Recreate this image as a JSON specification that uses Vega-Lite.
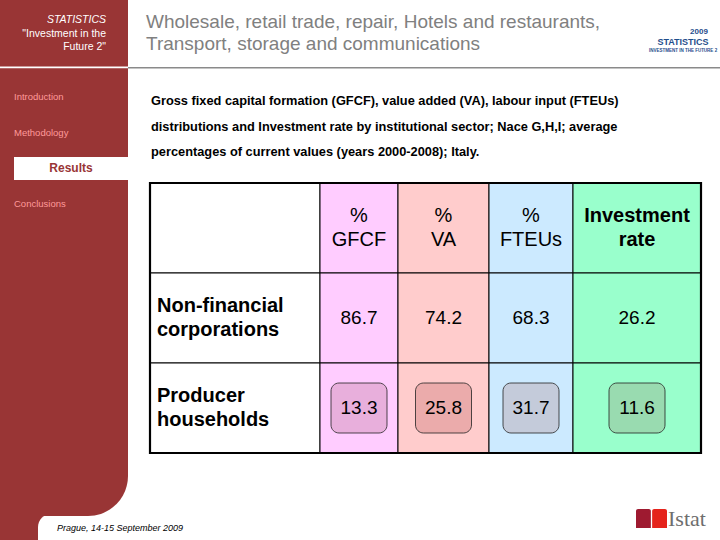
{
  "$schema": "https://vega.github.io/schema/vega-lite/v6.json",
  "width": 720,
  "height": 540,
  "autosize": {"type": "fit", "contains": "padding"},
  "padding": 0,
  "background": "white",
  "config": {"view": {"stroke": null}, "font": "Liberation Sans"},
  "datasets": {
    "cells": [
      {"row": "header", "col": "label", "label": ""},
      {"row": "header", "col": "% GFCF", "label": "%\nGFCF"},
      {"row": "header", "col": "% VA", "label": "%\nVA"},
      {"row": "header", "col": "% FTEUs", "label": "%\nFTEUs"},
      {"row": "header", "col": "Investment rate", "label": "Investment\nrate"},
      {"row": "Non-financial corporations", "col": "label", "label": "Non-financial\ncorporations"},
      {"row": "Producer households", "col": "label", "label": "Producer\nhouseholds"},
      {"row": "Non-financial corporations", "col": "% GFCF", "value": 86.7},
      {"row": "Non-financial corporations", "col": "% VA", "value": 74.2},
      {"row": "Non-financial corporations", "col": "% FTEUs", "value": 68.3},
      {"row": "Non-financial corporations", "col": "Investment rate", "value": 26.2},
      {"row": "Producer households", "col": "% GFCF", "value": 13.3},
      {"row": "Producer households", "col": "% VA", "value": 25.8},
      {"row": "Producer households", "col": "% FTEUs", "value": 31.7},
      {"row": "Producer households", "col": "Investment rate", "value": 11.6}
    ]
  },
  "resolve": {"scale": {"x": "independent", "y": "independent", "color": "independent"}},
  "layer": [
    {
      "data": {"values": [{"part": "sidebar-foot"}]},
      "mark": {"type": "rect", "fill": "#993535"},
      "encoding": {
        "x": {"field": "part", "type": "nominal", "scale": {"domain": ["sidebar-foot"], "range": [0, 62], "paddingInner": 0, "paddingOuter": 0}, "axis": null},
        "y": {"field": "part", "type": "nominal", "scale": {"domain": ["sidebar-foot"], "range": [470, 540], "paddingInner": 0, "paddingOuter": 0}, "axis": null}
      }
    },
    {
      "data": {"values": [{"part": "fillet"}]},
      "mark": {"type": "rect", "fill": "white", "cornerRadiusTopLeft": 20},
      "encoding": {
        "x": {"field": "part", "type": "nominal", "scale": {"domain": ["fillet"], "range": [38, 260], "paddingInner": 0, "paddingOuter": 0}, "axis": null},
        "y": {"field": "part", "type": "nominal", "scale": {"domain": ["fillet"], "range": [514, 540], "paddingInner": 0, "paddingOuter": 0}, "axis": null}
      }
    },
    {
      "data": {"values": [{"part": "sidebar"}]},
      "mark": {"type": "rect", "fill": "#993535", "cornerRadiusBottomRight": 40},
      "encoding": {
        "x": {"field": "part", "type": "nominal", "scale": {"domain": ["sidebar"], "range": [0, 128], "paddingInner": 0, "paddingOuter": 0}, "axis": null},
        "y": {"field": "part", "type": "nominal", "scale": {"domain": ["sidebar"], "range": [0, 516], "paddingInner": 0, "paddingOuter": 0}, "axis": null}
      }
    },
    {
      "data": {"values": [{"part": "sidebar-divider"}]},
      "mark": {"type": "rect", "fill": "white"},
      "encoding": {
        "x": {"field": "part", "type": "nominal", "scale": {"domain": ["sidebar-divider"], "range": [0, 128], "paddingInner": 0, "paddingOuter": 0}, "axis": null},
        "y": {"field": "part", "type": "nominal", "scale": {"domain": ["sidebar-divider"], "range": [66.5, 68.2], "paddingInner": 0, "paddingOuter": 0}, "axis": null}
      }
    },
    {
      "data": {"values": [{"part": "header-divider"}]},
      "mark": {"type": "rect", "fill": "#8a8a8a"},
      "encoding": {
        "x": {"field": "part", "type": "nominal", "scale": {"domain": ["header-divider"], "range": [128, 720], "paddingInner": 0, "paddingOuter": 0}, "axis": null},
        "y": {"field": "part", "type": "nominal", "scale": {"domain": ["header-divider"], "range": [67, 68.6], "paddingInner": 0, "paddingOuter": 0}, "axis": null}
      }
    },
    {
      "data": {"values": [
        {"block": "sidebar-head", "line": "STATISTICS"},
        {"block": "sidebar-head", "line": "\"Investment in the"},
        {"block": "sidebar-head", "line": "Future 2\""}
      ]},
      "encoding": {
        "x": {"field": "block", "type": "nominal", "scale": {"type": "point", "domain": ["sidebar-head"], "range": [106, 106], "padding": 0}, "axis": null},
        "y": {"field": "line", "type": "nominal", "scale": {"type": "point", "domain": ["STATISTICS", "\"Investment in the", "Future 2\""], "range": [20, 47], "padding": 0}, "axis": null},
        "text": {"field": "line"}
      },
      "layer": [
        {"transform": [{"filter": "datum.line === 'STATISTICS'"}], "mark": {"type": "text", "align": "right", "fontSize": 10.5, "fontStyle": "italic", "color": "white"}},
        {"transform": [{"filter": "datum.line !== 'STATISTICS'"}], "mark": {"type": "text", "align": "right", "fontSize": 10.5, "color": "white"}}
      ]
    },
    {
      "data": {"values": [
        {"block": "nav", "item": "Introduction"},
        {"block": "nav", "item": "Methodology"},
        {"block": "nav", "item": "Results"},
        {"block": "nav", "item": "Conclusions"}
      ]},
      "encoding": {
        "x": {"field": "block", "type": "nominal", "scale": {"domain": ["nav"], "range": [14, 128], "paddingInner": 0, "paddingOuter": 0}, "axis": null},
        "y": {"field": "item", "type": "nominal", "scale": {"domain": ["Introduction", "Methodology", "Results", "Conclusions"], "range": [79, 222], "paddingInner": 0, "paddingOuter": 0}, "axis": null}
      },
      "layer": [
        {"transform": [{"filter": "datum.item === 'Results'"}], "mark": {"type": "rect", "fill": "white", "height": 23}},
        {"transform": [{"filter": "datum.item !== 'Results'"}], "mark": {"type": "text", "align": "left", "fontSize": 9.5, "color": "#ff9a9a"},
         "encoding": {"x": {"field": "block", "type": "nominal", "bandPosition": 0, "scale": {"domain": ["nav"], "range": [14, 128], "paddingInner": 0, "paddingOuter": 0}, "axis": null}, "text": {"field": "item"}}},
        {"transform": [{"filter": "datum.item === 'Results'"}], "mark": {"type": "text", "align": "center", "fontSize": 12, "fontWeight": "bold", "color": "#993535"},
         "encoding": {"text": {"field": "item"}}}
      ]
    },
    {
      "data": {"values": [{"block": "title", "text": "Wholesale, retail trade, repair, Hotels and restaurants,\nTransport, storage and communications"}]},
      "mark": {"type": "text", "align": "left", "fontSize": 19, "lineBreak": "\n", "lineHeight": 22, "color": "#808080"},
      "encoding": {
        "x": {"field": "block", "type": "nominal", "scale": {"type": "point", "domain": ["title"], "range": [146, 146], "padding": 0}, "axis": null},
        "y": {"field": "block", "type": "nominal", "scale": {"type": "point", "domain": ["title"], "range": [22, 22], "padding": 0}, "axis": null},
        "text": {"field": "text"}
      }
    },
    {
      "data": {"values": [
        {"block": "logo", "line": "2009"},
        {"block": "logo", "line": "STATISTICS"},
        {"block": "logo", "line": "INVESTMENT IN THE FUTURE 2"}
      ]},
      "encoding": {
        "y": {"field": "line", "type": "nominal", "scale": {"type": "point", "domain": ["2009", "STATISTICS", "INVESTMENT IN THE FUTURE 2"], "range": [32, 51], "padding": 0}, "axis": null},
        "text": {"field": "line"}
      },
      "layer": [
        {"transform": [{"filter": "datum.line === '2009'"}], "mark": {"type": "text", "fontSize": 8, "fontWeight": "bold", "color": "#1f4e8c"},
         "encoding": {"x": {"field": "block", "type": "nominal", "scale": {"type": "point", "domain": ["logo"], "range": [699, 699], "padding": 0}, "axis": null}}},
        {"transform": [{"filter": "datum.line !== '2009'"}], "mark": {"type": "text", "fontSize": 9, "fontWeight": "bold", "color": "#1f4e8c"},
         "encoding": {"x": {"field": "block", "type": "nominal", "scale": {"type": "point", "domain": ["logo"], "range": [683, 683], "padding": 0}, "axis": null},
                      "size": {"field": "line", "type": "nominal", "scale": {"domain": ["STATISTICS", "INVESTMENT IN THE FUTURE 2"], "range": [9, 4.5]}, "legend": null}}}
      ],
      "resolve": {"scale": {"x": "independent"}}
    },
    {
      "data": {"values": [
        {"block": "para", "line": "Gross fixed capital formation (GFCF), value added (VA), labour input (FTEUs)"},
        {"block": "para", "line": "distributions and Investment rate by institutional sector; Nace G,H,I; average"},
        {"block": "para", "line": "percentages of current values (years 2000-2008); Italy."}
      ]},
      "mark": {"type": "text", "align": "left", "fontSize": 12.8, "fontWeight": "bold", "color": "black"},
      "encoding": {
        "x": {"field": "block", "type": "nominal", "scale": {"type": "point", "domain": ["para"], "range": [151, 151], "padding": 0}, "axis": null},
        "y": {"field": "line", "type": "nominal", "scale": {"type": "point", "domain": [
          "Gross fixed capital formation (GFCF), value added (VA), labour input (FTEUs)",
          "distributions and Investment rate by institutional sector; Nace G,H,I; average",
          "percentages of current values (years 2000-2008); Italy."], "range": [101, 152], "padding": 0}, "axis": null},
        "text": {"field": "line"}
      }
    },
    {
      "data": {"name": "cells"},
      "transform": [{"filter": "datum.col === 'label'"}],
      "encoding": {
        "x": {"field": "col", "type": "nominal", "scale": {"domain": ["label"], "range": [150, 320], "paddingInner": 0, "paddingOuter": 0}, "axis": null},
        "y": {"field": "row", "type": "nominal", "scale": {"domain": ["header", "Non-financial corporations", "Producer households"], "range": [183, 453], "paddingInner": 0, "paddingOuter": 0}, "axis": null}
      },
      "layer": [
        {"mark": {"type": "rect", "fill": "white", "stroke": "black", "strokeWidth": 1}},
        {"transform": [{"filter": "datum.row !== 'header'"}],
         "mark": {"type": "text", "align": "left", "dx": 7, "dy": -12, "fontSize": 20, "fontWeight": "bold", "lineBreak": "\n", "lineHeight": 24, "color": "black"},
         "encoding": {
           "x": {"field": "col", "type": "nominal", "bandPosition": 0, "scale": {"domain": ["label"], "range": [150, 320], "paddingInner": 0, "paddingOuter": 0}, "axis": null},
           "text": {"field": "label"}
         }}
      ]
    },
    {
      "data": {"name": "cells"},
      "transform": [{"filter": "datum.col === '% GFCF'"}],
      "encoding": {
        "x": {"field": "col", "type": "nominal", "scale": {"domain": ["% GFCF"], "range": [320, 398], "paddingInner": 0, "paddingOuter": 0}, "axis": null},
        "y": {"field": "row", "type": "nominal", "scale": {"domain": ["header", "Non-financial corporations", "Producer households"], "range": [183, 453], "paddingInner": 0, "paddingOuter": 0}, "axis": null}
      },
      "layer": [
        {"mark": {"type": "rect", "fill": "#ffccff", "stroke": "black", "strokeWidth": 1}},
        {"transform": [{"filter": "datum.row === 'Producer households'"}], "mark": {"type": "rect", "fill": "#e8afdc", "stroke": "#222222", "strokeWidth": 0.8, "cornerRadius": 8, "width": 56, "height": 50}},
        {"transform": [{"filter": "datum.row === 'header'"}], "mark": {"type": "text", "dy": -12, "fontSize": 20, "lineBreak": "\n", "lineHeight": 24, "color": "black"}, "encoding": {"text": {"field": "label"}}},
        {"transform": [{"filter": "isValid(datum.value)"}], "mark": {"type": "text", "fontSize": 19, "color": "black"}, "encoding": {"text": {"field": "value", "type": "quantitative", "format": ".1f"}}}
      ]
    },
    {
      "data": {"name": "cells"},
      "transform": [{"filter": "datum.col === '% VA'"}],
      "encoding": {
        "x": {"field": "col", "type": "nominal", "scale": {"domain": ["% VA"], "range": [398, 489], "paddingInner": 0, "paddingOuter": 0}, "axis": null},
        "y": {"field": "row", "type": "nominal", "scale": {"domain": ["header", "Non-financial corporations", "Producer households"], "range": [183, 453], "paddingInner": 0, "paddingOuter": 0}, "axis": null}
      },
      "layer": [
        {"mark": {"type": "rect", "fill": "#ffcccc", "stroke": "black", "strokeWidth": 1}},
        {"transform": [{"filter": "datum.row === 'Producer households'"}], "mark": {"type": "rect", "fill": "#ebabab", "stroke": "#222222", "strokeWidth": 0.8, "cornerRadius": 8, "width": 56, "height": 50}},
        {"transform": [{"filter": "datum.row === 'header'"}], "mark": {"type": "text", "dy": -12, "fontSize": 20, "lineBreak": "\n", "lineHeight": 24, "color": "black"}, "encoding": {"text": {"field": "label"}}},
        {"transform": [{"filter": "isValid(datum.value)"}], "mark": {"type": "text", "fontSize": 19, "color": "black"}, "encoding": {"text": {"field": "value", "type": "quantitative", "format": ".1f"}}}
      ]
    },
    {
      "data": {"name": "cells"},
      "transform": [{"filter": "datum.col === '% FTEUs'"}],
      "encoding": {
        "x": {"field": "col", "type": "nominal", "scale": {"domain": ["% FTEUs"], "range": [489, 573], "paddingInner": 0, "paddingOuter": 0}, "axis": null},
        "y": {"field": "row", "type": "nominal", "scale": {"domain": ["header", "Non-financial corporations", "Producer households"], "range": [183, 453], "paddingInner": 0, "paddingOuter": 0}, "axis": null}
      },
      "layer": [
        {"mark": {"type": "rect", "fill": "#cceaff", "stroke": "black", "strokeWidth": 1}},
        {"transform": [{"filter": "datum.row === 'Producer households'"}], "mark": {"type": "rect", "fill": "#c4cbda", "stroke": "#222222", "strokeWidth": 0.8, "cornerRadius": 8, "width": 56, "height": 50}},
        {"transform": [{"filter": "datum.row === 'header'"}], "mark": {"type": "text", "dy": -12, "fontSize": 20, "lineBreak": "\n", "lineHeight": 24, "color": "black"}, "encoding": {"text": {"field": "label"}}},
        {"transform": [{"filter": "isValid(datum.value)"}], "mark": {"type": "text", "fontSize": 19, "color": "black"}, "encoding": {"text": {"field": "value", "type": "quantitative", "format": ".1f"}}}
      ]
    },
    {
      "data": {"name": "cells"},
      "transform": [{"filter": "datum.col === 'Investment rate'"}],
      "encoding": {
        "x": {"field": "col", "type": "nominal", "scale": {"domain": ["Investment rate"], "range": [573, 701], "paddingInner": 0, "paddingOuter": 0}, "axis": null},
        "y": {"field": "row", "type": "nominal", "scale": {"domain": ["header", "Non-financial corporations", "Producer households"], "range": [183, 453], "paddingInner": 0, "paddingOuter": 0}, "axis": null}
      },
      "layer": [
        {"mark": {"type": "rect", "fill": "#99ffcc", "stroke": "black", "strokeWidth": 1}},
        {"transform": [{"filter": "datum.row === 'Producer households'"}], "mark": {"type": "rect", "fill": "#99dbb0", "stroke": "#222222", "strokeWidth": 0.8, "cornerRadius": 8, "width": 56, "height": 50}},
        {"transform": [{"filter": "datum.row === 'header'"}], "mark": {"type": "text", "dy": -12, "fontSize": 20, "fontWeight": "bold", "lineBreak": "\n", "lineHeight": 24, "color": "black"}, "encoding": {"text": {"field": "label"}}},
        {"transform": [{"filter": "isValid(datum.value)"}], "mark": {"type": "text", "fontSize": 19, "color": "black"}, "encoding": {"text": {"field": "value", "type": "quantitative", "format": ".1f"}}}
      ]
    },
    {
      "data": {"values": [{"part": "table"}]},
      "mark": {"type": "rect", "filled": false, "stroke": "black", "strokeWidth": 2.2},
      "encoding": {
        "x": {"field": "part", "type": "nominal", "scale": {"domain": ["table"], "range": [150, 701], "paddingInner": 0, "paddingOuter": 0}, "axis": null},
        "y": {"field": "part", "type": "nominal", "scale": {"domain": ["table"], "range": [183, 453], "paddingInner": 0, "paddingOuter": 0}, "axis": null}
      }
    },
    {
      "data": {"values": [{"block": "footer", "text": "Prague, 14-15 September 2009"}]},
      "mark": {"type": "text", "align": "left", "fontSize": 9, "fontStyle": "italic", "color": "black"},
      "encoding": {
        "x": {"field": "block", "type": "nominal", "scale": {"type": "point", "domain": ["footer"], "range": [57, 57], "padding": 0}, "axis": null},
        "y": {"field": "block", "type": "nominal", "scale": {"type": "point", "domain": ["footer"], "range": [528, 528], "padding": 0}, "axis": null},
        "text": {"field": "text"}
      }
    },
    {
      "data": {"values": [{"block": "dark"}, {"block": "bright"}]},
      "mark": {"type": "rect", "cornerRadiusTopLeft": 2, "cornerRadiusTopRight": 2},
      "encoding": {
        "x": {"field": "block", "type": "nominal", "scale": {"domain": ["dark", "bright"], "range": [636, 667], "paddingInner": 0.08, "paddingOuter": 0}, "axis": null},
        "y": {"datum": "istat", "type": "nominal", "scale": {"domain": ["istat"], "range": [509, 528], "paddingInner": 0, "paddingOuter": 0}, "axis": null},
        "color": {"field": "block", "type": "nominal", "scale": {"domain": ["dark", "bright"], "range": ["#9e1a30", "#e5231b"]}, "legend": null}
      }
    },
    {
      "data": {"values": [{"block": "istat", "text": "Istat"}]},
      "mark": {"type": "text", "align": "left", "font": "Liberation Serif", "fontSize": 22, "color": "#6e6e6e"},
      "encoding": {
        "x": {"field": "block", "type": "nominal", "scale": {"type": "point", "domain": ["istat"], "range": [668, 668], "padding": 0}, "axis": null},
        "y": {"field": "block", "type": "nominal", "scale": {"type": "point", "domain": ["istat"], "range": [519, 519], "padding": 0}, "axis": null},
        "text": {"field": "text"}
      }
    }
  ]
}
